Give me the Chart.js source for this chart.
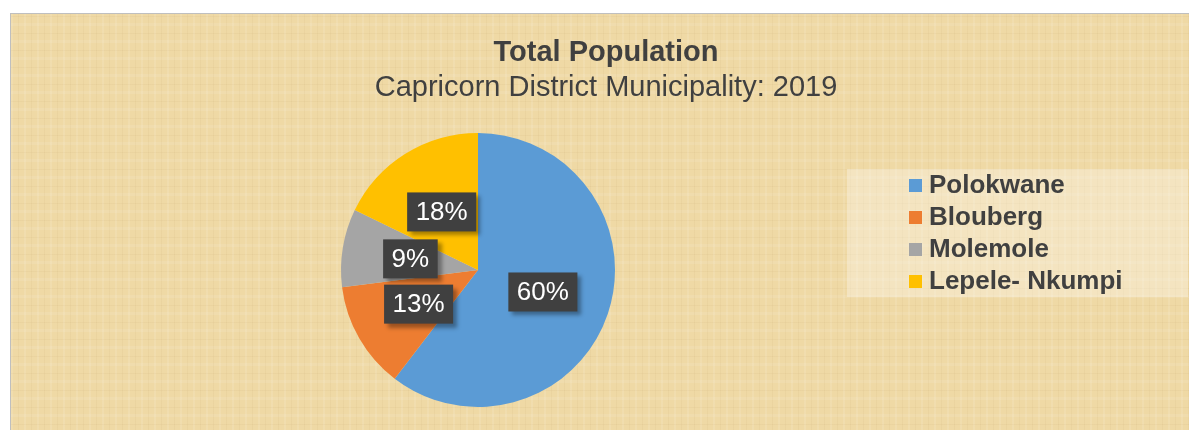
<!DOCTYPE html>
<html>
<head>
<meta charset="utf-8">
<script src="https://cdn.jsdelivr.net/npm/chart.js@4"></script>
<style>
  body { margin: 0; background: #fff; overflow: hidden; width: 1189px; height: 430px; }
  #frame {
    position: absolute; left: 10px; top: 13px; width: 1190px; height: 420px;
    border-left: 1px solid #bfbfbf; border-top: 1px solid #bfbfbf;
    background-color: #efd9a5;
    background-image:
      repeating-linear-gradient(90deg, rgba(255,255,255,0.10) 0 2px, rgba(0,0,0,0) 2px 7px, rgba(150,110,50,0.05) 7px 8px, rgba(0,0,0,0) 8px 13px),
      repeating-linear-gradient(0deg, rgba(255,255,255,0.09) 0 3px, rgba(0,0,0,0) 3px 9px, rgba(150,110,50,0.05) 9px 10px, rgba(0,0,0,0) 10px 17px);
  }
  .title { position: absolute; left: 0; width: 1190px; text-align: center; color: #404040;
    font-family: "Liberation Sans", Arial, sans-serif; font-size: 29px; line-height: 34px; }
  #t1 { top: 20px; font-weight: bold; }
  #t2 { top: 55px; }
  #pie { position: absolute; left: 0; top: 0; }
</style>
</head>
<body>
<div id="frame">
  <canvas id="pie" width="1189" height="416"></canvas>
  <div class="title" id="t1">Total Population</div>
  <div class="title" id="t2">Capricorn District Municipality: 2019</div>
</div>
<script>
// Capricorn District population share, 2019
const districts = ['Polokwane', 'Blouberg', 'Molemole', 'Lepele- Nkumpi'];
const shares = [60.4, 12.6, 9.2, 17.8];
const sliceColors = ['#5b9bd5', '#ed7d31', '#a5a5a5', '#ffc000'];

// dark boxed percentage labels
const boxLabels = {
  id: 'boxLabels',
  afterDatasetsDraw(chart) {
    const ctx = chart.ctx;
    const data = chart.data.datasets[0].data;
    const total = data.reduce((a, b) => a + b, 0);
    chart.getDatasetMeta(0).data.forEach(function (arc, i) {
      const p = arc.tooltipPosition();
      const txt = Math.round(data[i] / total * 100) + '%';
      ctx.save();
      ctx.font = '26px "Liberation Sans", Arial, sans-serif';
      const w = ctx.measureText(txt).width + 17;
      const h = 39;
      ctx.shadowColor = 'rgba(0,0,0,0.35)';
      ctx.shadowOffsetX = 4;
      ctx.shadowOffsetY = 4;
      ctx.shadowBlur = 4;
      ctx.fillStyle = '#404040';
      ctx.fillRect(p.x - w / 2, p.y - h / 2, w, h);
      ctx.restore();
      ctx.save();
      ctx.font = '26px "Liberation Sans", Arial, sans-serif';
      ctx.fillStyle = '#ffffff';
      ctx.textAlign = 'center';
      ctx.textBaseline = 'middle';
      ctx.fillText(txt, p.x, p.y + 1);
      ctx.restore();
    });
  }
};

// legend on the right with a light panel
const sideLegend = {
  id: 'sideLegend',
  afterDraw(chart) {
    const ctx = chart.ctx;
    const labels = chart.data.labels;
    const colors = chart.data.datasets[0].backgroundColor;
    ctx.save();
    ctx.fillStyle = 'rgba(255,255,255,0.3)';
    ctx.fillRect(836, 155, 341, 128);
    ctx.font = 'bold 26px "Liberation Sans", Arial, sans-serif';
    ctx.textBaseline = 'middle';
    labels.forEach(function (lab, i) {
      const y = 171 + i * 32;
      ctx.fillStyle = colors[i];
      ctx.fillRect(898, y - 6, 13, 13);
      ctx.fillStyle = '#404040';
      ctx.fillText(lab, 918, y + 1);
    });
    ctx.restore();
  }
};

new Chart(document.getElementById('pie'), {
  type: 'pie',
  data: {
    labels: districts,
    datasets: [{
      data: shares,
      backgroundColor: sliceColors,
      borderWidth: 0
    }]
  },
  options: {
    responsive: false,
    animation: false,
    devicePixelRatio: 1,
    layout: { padding: { top: 119, bottom: 23, left: 0, right: 255 } },
    plugins: {
      legend: { display: false },
      tooltip: { enabled: false }
    }
  },
  plugins: [boxLabels, sideLegend]
});
</script>
</body>
</html>
